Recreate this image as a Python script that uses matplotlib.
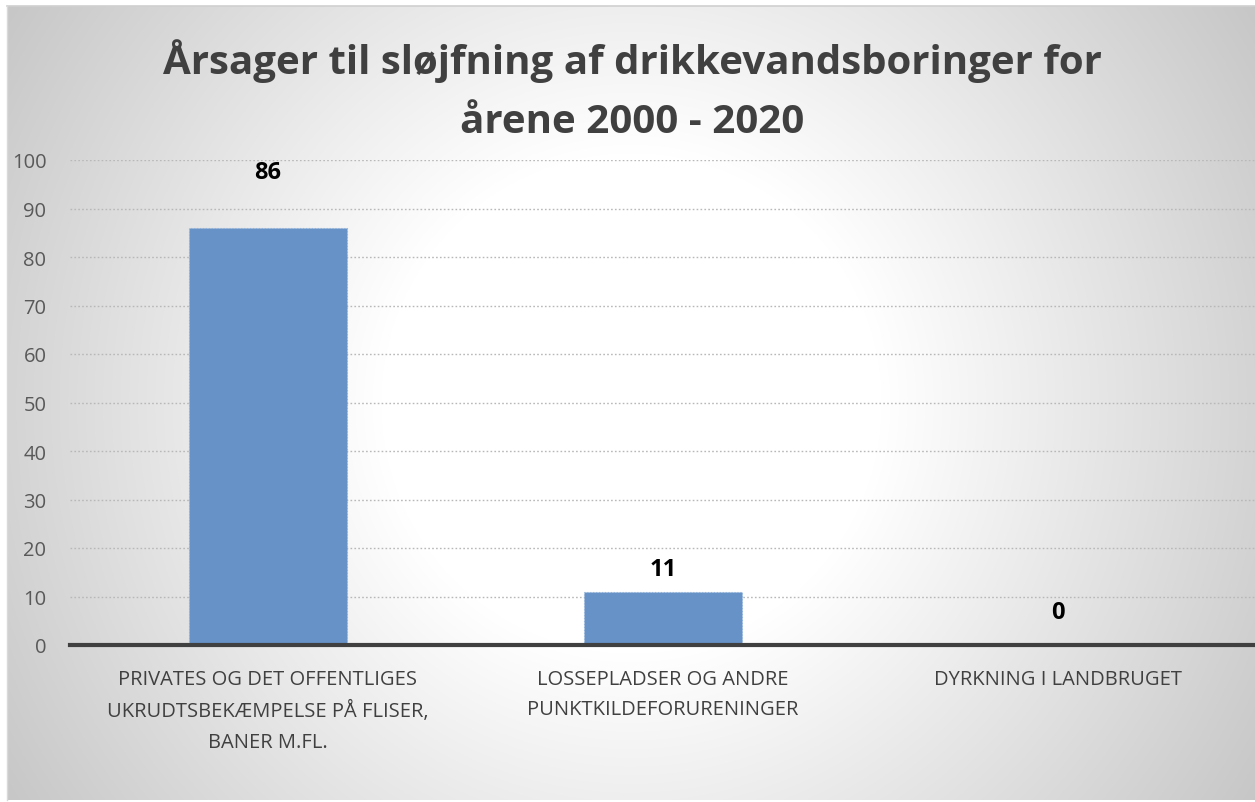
"""
Årsager til sløjfning af drikkevandsboringer, 2000 - 2020
"""
import matplotlib.pyplot as plt
import numpy as np

plt.rcParams.update({
    'font.family': ['Open Sans', 'DejaVu Sans'],
    'font.size': 14,
})

# Data
categories = ['PRIVATES OG DET OFFENTLIGES\nUKRUDTSBEKÆMPELSE PÅ FLISER,\nBANER M.FL.',
              'LOSSEPLADSER OG ANDRE\nPUNKTKILDEFORURENINGER',
              'DYRKNING I LANDBRUGET']
values = [86, 11, 0]
yticks = [0, 10, 20, 30, 40, 50, 60, 70, 80, 90, 100]
title = 'Årsager til sløjfning af drikkevandsboringer for\nårene 2000 - 2020'

# label offsets above bar tops (points)
label_offsets = [40, 16, 24]

W, H = 1255, 803
fig = plt.figure(figsize=(W / 100, H / 100), dpi=100, facecolor='white')

# ---- chart area with radial grey gradient ----
x0, y0, x1, y1 = 7, 7, 1255, 801
bg = fig.add_axes([x0 / W, 1 - y1 / H, (x1 - x0) / W, (y1 - y0) / H])
xx, yy = np.meshgrid(np.arange(x1 - x0), np.arange(y1 - y0))
cx, cy = (x1 - x0) / 2, (y1 - y0) / 2
d = np.hypot(xx - cx, yy - cy)
shade = 255 - 0.115 * np.clip(d - 250, 0, None)
shade = np.clip(shade, 185, 255) / 255.0
rgb = np.dstack([shade, shade, shade])
bg.imshow(rgb, aspect='auto', interpolation='bilinear')
bg.set_axis_off()
# thin border on top / left
fig.add_artist(plt.Line2D([x0 / W, 1], [1 - y0 / H, 1 - y0 / H], color='#d0d0d0', lw=1.2))
fig.add_artist(plt.Line2D([x0 / W, x0 / W], [1 - y1 / H, 1 - y0 / H], color='#d9d9d9', lw=1.0))

# ---- plot axes ----
ax_l, ax_r = 70, 1256
y_zero, y_top = 646, 161
ax = fig.add_axes([ax_l / W, 1 - y_zero / H, (ax_r - ax_l) / W, (y_zero - y_top) / H])
ax.patch.set_alpha(0)

x = np.arange(len(categories))
ax.bar(x, values, width=0.4, color='#6692c7', edgecolor='#8fb1da',
       linewidth=0.8, linestyle=':', zorder=3)

ax.set_xlim(-0.5, len(categories) - 0.5)
ax.set_ylim(0, 100)
ax.set_yticks(yticks)
ax.yaxis.grid(True, color='#b8b8b8', linestyle=(0, (1.2, 1.6)), linewidth=1.0, zorder=0)
ax.set_axisbelow(True)

for s in ['top', 'right', 'left']:
    ax.spines[s].set_visible(False)
ax.spines['bottom'].set_color('#404040')
ax.spines['bottom'].set_linewidth(3)
ax.spines['bottom'].set_zorder(4)

ax.tick_params(axis='y', length=0, pad=17, labelsize=14.5, labelcolor='#595959')
ax.tick_params(axis='x', length=0, pad=17, labelsize=14.5, labelcolor='#404040')
ax.set_xticks(x)
ax.set_xticklabels(categories, linespacing=1.72, va='top')

for xi, v, off in zip(x, values, label_offsets):
    ax.annotate(f'{v}', xy=(xi, v), xytext=(0, off), textcoords='offset points',
                ha='center', va='center', fontsize=17, fontweight='bold',
                color='black', annotation_clip=False, zorder=5)

fig.text(632 / W, 1 - 133 / H, title, ha='center', va='baseline',
         fontsize=29, fontweight='bold', color='#404040', linespacing=1.68)

plt.savefig('out.png', dpi=100, facecolor='white')
print('saved out.png')
